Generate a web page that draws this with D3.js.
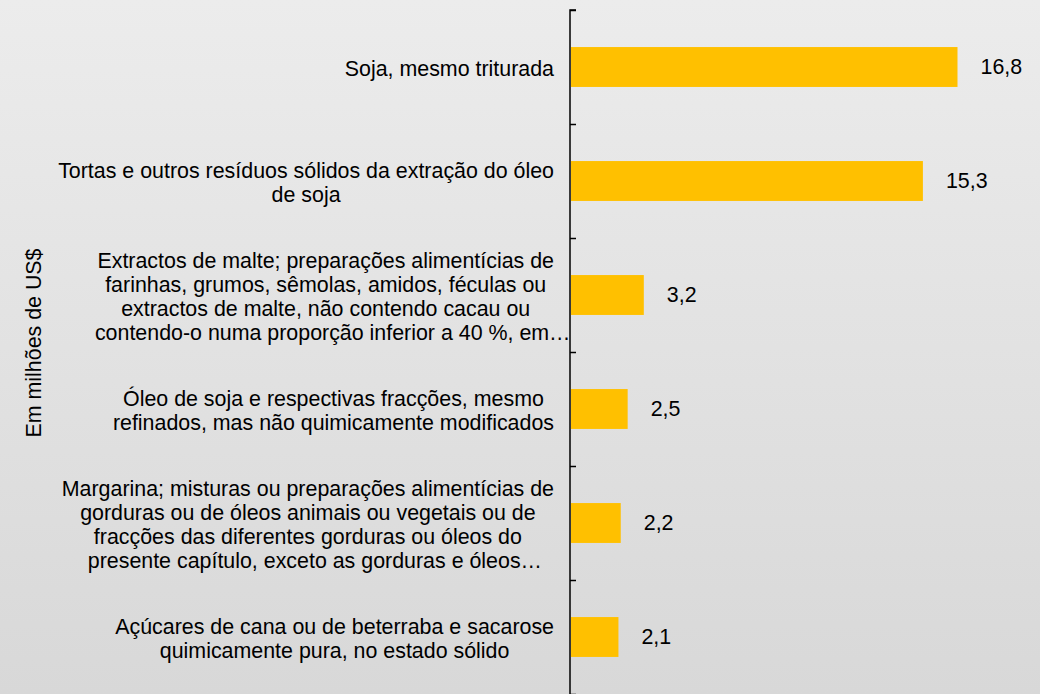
<!DOCTYPE html>
<html><head><meta charset="utf-8">
<script src="https://cdn.jsdelivr.net/npm/d3@7"></script>
<style>html,body{margin:0;padding:0;overflow:hidden;}</style>
</head><body>
<svg id="c" width="1040" height="694"></svg>
<script>
const categories = [
  ["Soja, mesmo triturada"],
  ["Tortas e outros resíduos sólidos da extração do óleo", "de soja"],
  ["Extractos de malte; preparações alimentícias de", "farinhas, grumos, sêmolas, amidos, féculas ou", "extractos de malte, não contendo cacau ou", "contendo-o numa proporção inferior a 40 %, em…"],
  ["Óleo de soja e respectivas fracções, mesmo", "refinados, mas não quimicamente modificados"],
  ["Margarina; misturas ou preparações alimentícias de", "gorduras ou de óleos animais ou vegetais ou de", "fracções das diferentes gorduras ou óleos do", "presente capítulo, exceto as gorduras e óleos…"],
  ["Açúcares de cana ou de beterraba e sacarose", "quimicamente pura, no estado sólido"]
];
const values = [16.8, 15.3, 3.2, 2.5, 2.2, 2.1];
const valueLabels = ["16,8", "15,3", "3,2", "2,5", "2,2", "2,1"];
const axisTitle = "Em milhões de US$";

const W = 1040, H = 694;
const svg = d3.select("#c");
const font = "'Liberation Sans', Arial, sans-serif";
const fs = 21.4;

const defs = svg.append("defs");
const grad = defs.append("linearGradient").attr("id","bg").attr("x1",0).attr("y1",0).attr("x2",0).attr("y2",1);
grad.append("stop").attr("offset","0%").attr("stop-color","#ececec");
grad.append("stop").attr("offset","100%").attr("stop-color","#d8d8d8");
svg.append("rect").attr("width",W).attr("height",H).attr("fill","url(#bg)");

const x0 = 570;
const x = d3.scaleLinear().domain([0, 16.8]).range([x0, 957.5]);
const idx = d3.range(values.length);
const y = d3.scaleBand().domain(idx).range([10, 694]).paddingInner(0.65).paddingOuter(0.325);

// bars
svg.append("g").selectAll("rect").data(idx).join("rect")
  .attr("x", x0 + 1)
  .attr("y", i => y(i))
  .attr("width", i => x(values[i]) - x0 - 1)
  .attr("height", y.bandwidth())
  .attr("fill", "#FFC000");

// axis
const yAxisScale = d3.scaleLinear().domain([0, values.length]).range([10, 694]);
const axisG = svg.append("g").attr("transform", `translate(${x0},0)`)
  .call(d3.axisRight(yAxisScale).ticks(values.length).tickSize(6).tickFormat(""));
axisG.select(".domain").attr("d", `M6,10H0V694`).attr("stroke","#000").attr("stroke-width",1.5).attr("fill","none");
axisG.selectAll(".tick line").attr("stroke","#000").attr("stroke-width",1.5);

// value labels
svg.append("g").selectAll("text").data(idx).join("text")
  .attr("x", i => x(values[i]) + 23)
  .attr("y", i => y(i) + y.bandwidth()/2)
  .attr("dy", "0.35em")
  .attr("font-family", font).attr("font-size", fs).attr("fill", "#000")
  .text(i => valueLabels[i]);

// category labels
const lh = 23.7;
const rightEdge = 554;
idx.forEach(i => {
  const lines = categories[i];
  const g = svg.append("g");
  const cy = y(i) + y.bandwidth()/2 + 1.5;
  const texts = lines.map((l, k) => g.append("text")
    .attr("y", cy + (k - (lines.length - 1)/2) * lh)
    .attr("dy", "0.35em")
    .attr("font-family", font).attr("font-size", fs).attr("fill", "#000")
    .attr("text-anchor", "middle")
    .text(l));
  const full = texts.filter((t, k) => !lines[k].endsWith("…"));
  const maxW = d3.max(full, t => t.node().getComputedTextLength());
  const cx = rightEdge - maxW/2;
  texts.forEach((t, k) => t.attr("x", lines[k].endsWith("…") ? cx + 7 : cx));
});

// axis title
svg.append("text")
  .attr("transform", `translate(33,343) rotate(-90)`)
  .attr("text-anchor", "middle").attr("dy", "0.35em")
  .attr("font-family", font).attr("font-size", fs).attr("fill", "#000")
  .text(axisTitle);
</script>
</body></html>
